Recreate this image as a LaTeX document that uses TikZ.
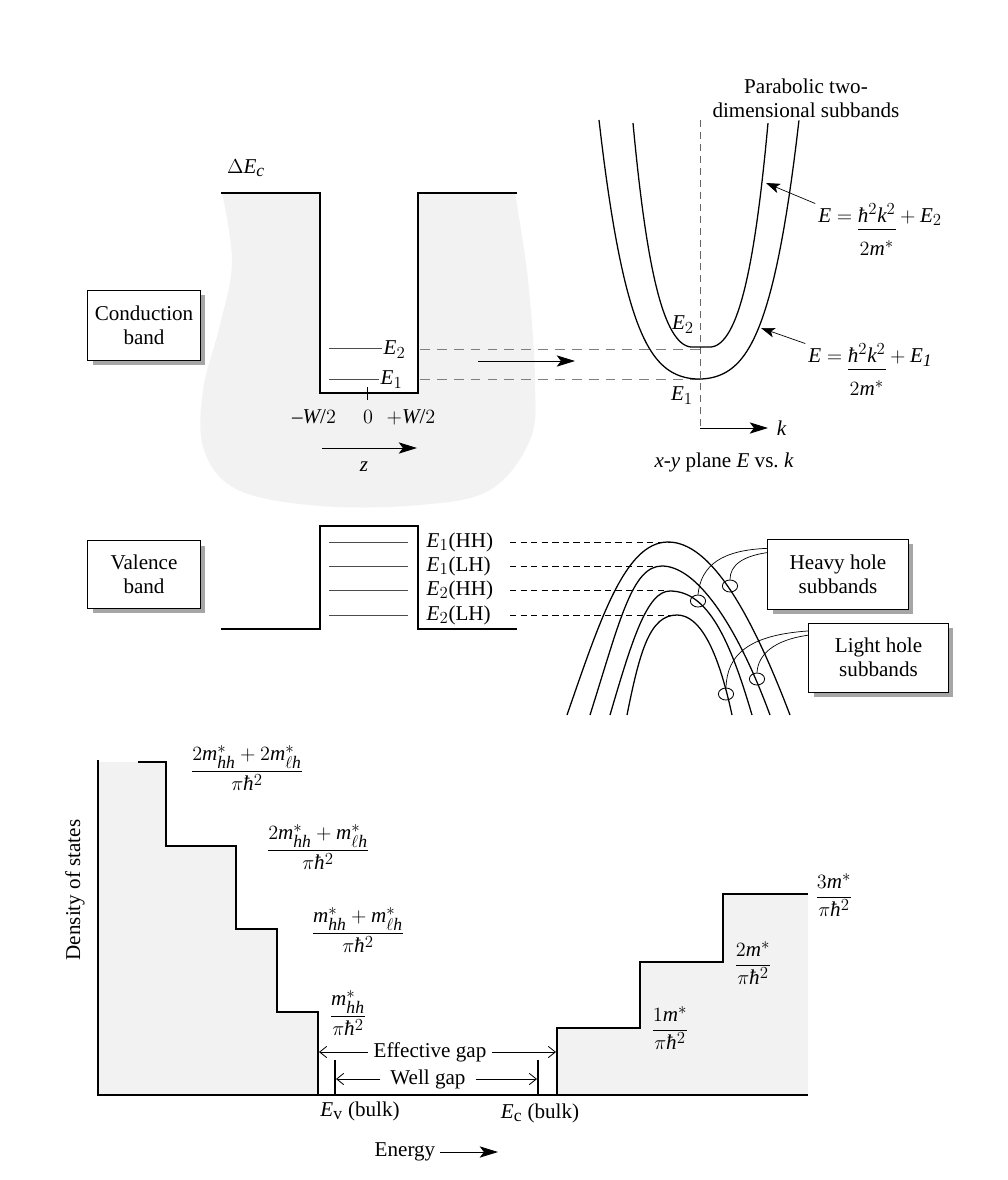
\documentclass[tikz,border=0pt]{standalone}
\usepackage{fontspec}
\setmainfont{Liberation Serif}
\usepackage{amsmath}
\usepackage[italic]{mathastext}
\usetikzlibrary{positioning,calc,arrows.meta,shapes.geometric,shadows}
\definecolor{bandgray}{HTML}{F2F2F2}
\definecolor{guidegray}{HTML}{7F7F7F}

\begin{document}
\begin{tikzpicture}[x=0.025cm, y=-0.025cm,
  font=\fontsize{15}{17}\selectfont,
  bandbox/.style={draw=black, line width=0.7pt, fill=white, align=center,
    drop shadow={shadow xshift=3.5pt, shadow yshift=-3.5pt, fill=black!35, opacity=1}},
  well/.style={line width=1.1pt},
  level/.style={line width=0.6pt, black!70},
  guide/.style={line width=0.7pt, guidegray, dash pattern=on 7pt off 5pt},
  holeguide/.style={line width=0.5pt, dash pattern=on 4.5pt off 3pt},
  band/.style={line width=0.9pt},
  ring/.style={draw, ellipse, line width=0.6pt, minimum width=0.38cm,
    minimum height=0.3cm, inner sep=0pt},
  leader/.style={line width=0.5pt},
  stair/.style={line width=1.1pt},
  pointer/.style={line width=0.5pt, -{Stealth[length=10pt,width=7pt,inset=2.5pt]}},
  axisarrow/.style={line width=0.7pt, -{Stealth[length=13pt,width=8pt,inset=3pt]}},
  gaparrow/.style={line width=0.6pt, -{Straight Barb[length=5pt,width=8pt]}},
]
\useasboundingbox (0,0) rectangle (1008,1180);

% Conduction band: shaded region and quantum well
\fill[bandgray] plot[smooth, tension=0.6] coordinates {(222,193) (232,262) (220,325)
  (203,390) (204,450) (238,490) (320,506) (420,505) (490,490) (530,440) (535,380)
  (528,280) (515,193)} -- cycle;
\fill[white] (320,193) rectangle (418,393);
\draw[well] (221,193) -- (320,193) -- (320,393) -- (418,393) -- (418,193) -- (517,193);
\draw[line width=0.6pt] (367,387) -- (367,400);
\node (dEc) at (246,168) {$\Delta E_c$};

\node[bandbox, minimum width=2.8cm, minimum height=1.75cm] (cbox) at (144,325) {Conduction\\band};

\node[anchor=west, inner sep=1pt] (cE2) at (382,350) {$E_2$};
\node[anchor=west, inner sep=1pt] (cE1) at (379,380) {$E_1$};
\coordinate (cL2) at (329,348);
\coordinate (cL1) at (329,379);
\draw[level] (cL2) -- (cE2.west |- cL2);
\draw[level] (cL1) -- (cE1.west |- cL1);

\node (wl) at (314,417) {$-W/2$};
\node (w0) at (368,417) {$0$};
\node (wr) at (411,417) {$+W/2$};
\coordinate (zs) at (322,448);
\coordinate (ze) at (417,448);
\draw[axisarrow] (zs) -- (ze);
\node (zlab) at (364,467) {$z$};

% Conduction subbands in the x-y plane
\coordinate (kaxtop) at (700,120);
\coordinate (korig) at (700,428);
\coordinate (kend) at (768,428);
\draw[guide, guidegray!80!black, dash pattern=on 5pt off 3.5pt, line width=0.6pt] (kaxtop) -- (korig);
\draw[axisarrow] (korig) -- (kend);
\node[anchor=west] (klab) at (772,428) {$k$};
\node (plane) at (724,462) {$x$-$y$ plane $E$ vs.\ $k$};

\coordinate (wE2) at (420,349);
\coordinate (wE1) at (420,379);
\coordinate (pE2) at (700,349);
\coordinate (pE1) at (700,379);
\draw[guide] (wE2) -- (pE2);
\draw[guide] (wE1) -- (pE1);
\coordinate (mapL) at (478,361);
\coordinate (mapR) at (575,361);
\draw[axisarrow, line width=0.6pt] (mapL) -- (mapR);

\draw[band] plot[domain=-1:1, samples=81]
  ({699+100*\x}, {379-80*\x*\x-179*\x*\x*\x*\x});
\draw[band] plot[domain=-1:0, samples=41]
  ({692+59*\x}, {347-130*\x*\x-94*\x*\x*\x*\x})
  -- plot[domain=0:1, samples=41]
  ({710+58*\x}, {347-130*\x*\x-94*\x*\x*\x*\x});

\node (pE2lab) at (683,325) {$E_2$};
\node (pE1lab) at (682,396) {$E_1$};
\node[align=center] (parab) at (806,98) {Parabolic two-\\dimensional subbands};

\node[anchor=base west, inner sep=0pt] (eqtwo) at (818,222)
  {$E = \begin{array}[t]{@{}c@{}}\hbar^2k^2\\\hline\rule{0pt}{2.7ex}2m^*\end{array} + E_2$};
\node[anchor=base west, inner sep=0pt] (eqone) at (808,362)
  {$E = \begin{array}[t]{@{}c@{}}\hbar^2k^2\\\hline\rule{0pt}{2.7ex}2m^*\end{array} + E_{\mathit{1}}$};
\coordinate (onE2) at (766,183);
\coordinate (onE1) at (761,328);
\draw[pointer] ([xshift=-2pt]eqtwo.north west) -- (onE2);
\draw[pointer] ([xshift=-2pt]eqone.north west) -- (onE1);

% Valence band well and hole levels
\draw[well] (221,629) -- (320,629) -- (320,526) -- (418,526) -- (418,629) -- (517,629);
\node[bandbox, minimum width=2.8cm, minimum height=1.68cm] (vbox) at (144,574.5) {Valence\\band};

\foreach \yy/\lab/\nm/\xe in {542/{$E_1$(HH)}/a/670, 566/{$E_1$(LH)}/b/660,
                               590/{$E_2$(HH)}/c/666, 615/{$E_2$(LH)}/d/674} {
  \coordinate (lv\nm) at (329,\yy);
  \coordinate (lve\nm) at (408,\yy);
  \draw[level] (lv\nm) -- (lve\nm);
  \node[anchor=west, inner sep=1pt] (vl\nm) at (425,\yy) {\lab};
  \coordinate (gs\nm) at (510,\yy);
  \coordinate (ge\nm) at (\xe,\yy);
  \draw[holeguide] (gs\nm) -- (ge\nm);
}

% Hole subbands
\draw[band] (567,715) .. controls (600,620) and (625,542) .. (668,542)
  .. controls (710,542) and (750,610) .. (790,715);
\draw[band] (590,715) .. controls (620,620) and (632,566) .. (662,566)
  .. controls (695,566) and (735,620) .. (770,715);
\draw[band] (610,715) .. controls (632,640) and (647,591) .. (670,591)
  .. controls (708,591) and (730,640) .. (752,715);
\draw[band] (627,715) .. controls (640,650) and (650,615) .. (677,615)
  .. controls (700,615) and (718,650) .. (732,715);

\node[ring] (hhA) at (730,586) {};
\node[ring] (hhB) at (698,601) {};
\node[ring] (lhA) at (757,679) {};
\node[ring] (lhB) at (726,694) {};

\node[bandbox, minimum width=3.5cm, minimum height=1.75cm] (hhbox) at (838,574) {Heavy hole\\subbands};
\node[bandbox, minimum width=3.475cm, minimum height=1.725cm] (lhbox) at (878.5,657.5) {Light hole\\subbands};

\draw[leader] ([yshift=-7pt]hhbox.north west) .. controls (722,550) and (701,565) .. (hhB.north);
\draw[leader] ([yshift=-10pt]hhbox.north west) .. controls (743,556) and (730,565) .. (hhA.north);
\draw[leader] ([yshift=-6pt]lhbox.north west) .. controls (748,635) and (727,655) .. (lhB.north);
\draw[leader] ([yshift=-9pt]lhbox.north west) .. controls (773,640) and (758,655) .. (lhA.north);

% Density of states
\fill[bandgray] (98,762) -- (166,762) -- (166,846) -- (236,846) -- (236,929) -- (277,929)
  -- (277,1012) -- (318,1012) -- (318,1095) -- (98,1095) -- cycle;
\fill[bandgray] (557,1095) -- (557,1028) -- (640,1028) -- (640,962) -- (723,962)
  -- (723,894) -- (808,894) -- (808,1095) -- cycle;
\draw[stair] (98,760) -- (98,1095) -- (808,1095);
\draw[stair] (138,762) -- (166,762) -- (166,846) -- (236,846) -- (236,929) -- (277,929)
  -- (277,1012) -- (318,1012) -- (318,1095);
\draw[stair] (557,1095) -- (557,1028) -- (640,1028) -- (640,962) -- (723,962)
  -- (723,894) -- (808,894);

\node[rotate=90] (dos) at (75,890) {Density of states};

\node (f1) at (247,768) {$\dfrac{2m^*_{hh}+2m^*_{\ell h}}{\pi\hbar^2}$};
\node (f2) at (318,847) {$\dfrac{2m^*_{hh}+m^*_{\ell h}}{\pi\hbar^2}$};
\node (f3) at (358,930) {$\dfrac{m^*_{hh}+m^*_{\ell h}}{\pi\hbar^2}$};
\node (f4) at (348,1013) {$\dfrac{m^*_{hh}}{\pi\hbar^2}$};
\node (f5) at (670,1028) {$\dfrac{1m^*}{\pi\hbar^2}$};
\node (f6) at (753,963) {$\dfrac{2m^*}{\pi\hbar^2}$};
\node (f7) at (834,895) {$\dfrac{3m^*}{\pi\hbar^2}$};

% Gaps
\coordinate (wgL) at (335,1060);
\coordinate (wgLb) at (335,1095);
\coordinate (wgR) at (538,1060);
\coordinate (wgRb) at (538,1095);
\draw[stair, line width=0.9pt] (wgL) -- (wgLb);
\draw[stair, line width=0.9pt] (wgR) -- (wgRb);

\node[inner sep=4pt] (effgap) at (430,1052) {Effective gap};
\coordinate (effL) at (319,1052);
\coordinate (effR) at (556,1052);
\draw[gaparrow] (effgap.west) -- (effL);
\draw[gaparrow] (effgap.east) -- (effR);

\node[inner sep=7pt] (wellgap) at (428,1079) {Well gap};
\coordinate (wellL) at (336,1079);
\coordinate (wellR) at (537,1079);
\draw[gaparrow] (wellgap.west) -- (wellL);
\draw[gaparrow] (wellgap.east) -- (wellR);

\node (ev) at (360,1111) {$E_{\mathrm{v}}$ (bulk)};
\node (ec) at (540,1113) {$E_{\mathrm{c}}$ (bulk)};

\node (energy) at (405,1152) {Energy};
\coordinate (energyend) at (498,1152);
\draw[axisarrow, line width=0.6pt] (energy.east) -- (energyend);

\end{tikzpicture}
\end{document}
